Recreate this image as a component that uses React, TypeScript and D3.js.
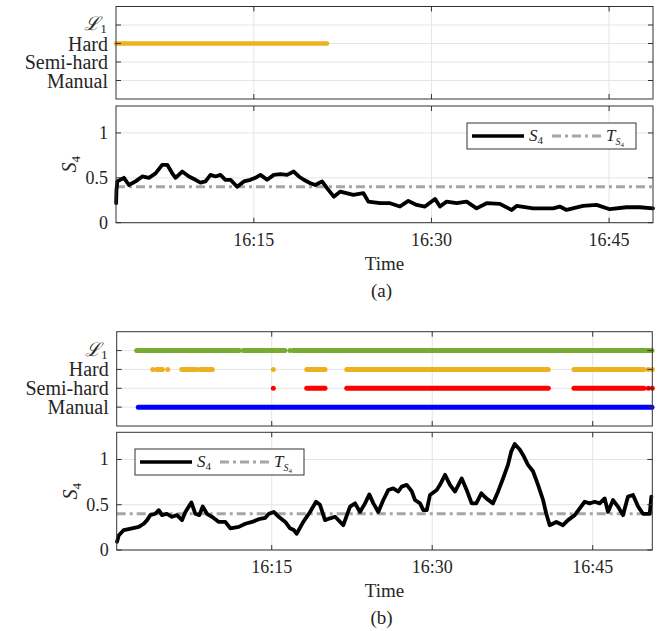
import React from "react";
import * as d3 from "d3";

// ---------- data (minutes after 16:00) ----------
const rowLabels = ["Manual", "Semi-hard", "Hard", "L1"];
const xTickLabels = ["16:15", "16:30", "16:45"];
const xTickMinutes = [15, 30, 45];
const yTicks = [0, 0.5, 1];
const threshold = 0.4;

const aDomain = [3.36, 48.71];
const aHard = [[3.36, 21.18]];

const aTimes = [3.37, 3.4, 3.47, 4.03, 4.45, 5.01, 5.58, 6.14, 6.7, 7.26, 7.69, 8.11, 8.39, 8.95, 9.52, 10.07, 10.49, 10.92, 11.34, 11.76, 12.18, 12.6, 13.03, 13.59, 14.16, 14.71, 15.13, 15.56, 16.12, 16.69, 17.24, 17.81, 18.37, 18.8, 19.22, 19.78, 20.2, 20.76, 21.18, 21.75, 22.31, 23.4, 24.25, 24.67, 25.66, 26.5, 27.34, 28.04, 28.75, 29.45, 30.3, 30.72, 31.28, 32.13, 32.97, 33.81, 34.66, 35.78, 36.77, 37.19, 38.59, 40.28, 40.84, 41.41, 42.81, 43.94, 45.06, 46.47, 47.59, 48.71];
const aS4 = [0.217, 0.366, 0.46, 0.5, 0.42, 0.46, 0.515, 0.5, 0.55, 0.645, 0.645, 0.55, 0.5, 0.57, 0.515, 0.478, 0.447, 0.46, 0.533, 0.515, 0.533, 0.478, 0.478, 0.4, 0.46, 0.478, 0.5, 0.533, 0.478, 0.533, 0.54, 0.533, 0.57, 0.515, 0.478, 0.44, 0.42, 0.46, 0.385, 0.29, 0.347, 0.31, 0.33, 0.235, 0.217, 0.217, 0.18, 0.243, 0.198, 0.18, 0.265, 0.18, 0.235, 0.217, 0.235, 0.16, 0.217, 0.21, 0.142, 0.187, 0.16, 0.16, 0.18, 0.142, 0.187, 0.198, 0.15, 0.172, 0.172, 0.16];

const bDomain = [0.51, 50.57];
const bL1 = [[2.38, 11.97], [12.35, 16.24], [16.71, 16.71], [17.02, 50.54]];
const bHard = [[3.88, 3.88], [4.25, 4.78], [5.28, 5.28], [6.59, 7.99], [8.3, 9.45], [15.15, 15.15], [18.27, 19.98], [22.01, 40.85], [43.25, 49.79], [50.2, 50.2], [50.57, 50.57]];
const bSemi = [[15.15, 15.15], [18.27, 19.98], [22.01, 40.85], [43.25, 49.79], [50.2, 50.2], [50.57, 50.57]];
const bManual = [[2.53, 50.54]];

const bTimes = [0.54, 0.7, 1.17, 1.94, 2.57, 3.04, 3.35, 3.65, 4.12, 4.44, 4.75, 5.21, 5.68, 6.15, 6.62, 6.93, 7.49, 7.86, 8.23, 8.55, 8.95, 9.42, 10.05, 10.66, 11.13, 11.92, 12.53, 13.16, 13.79, 14.4, 14.72, 15.19, 15.65, 16.27, 16.71, 17.06, 17.34, 17.95, 18.58, 19.14, 19.51, 19.98, 20.45, 20.92, 21.69, 22.32, 22.79, 23.25, 23.72, 24.12, 24.5, 24.96, 25.43, 25.9, 26.36, 26.83, 27.15, 27.62, 28.08, 28.39, 28.86, 29.17, 29.49, 29.79, 30.42, 30.73, 31.2, 31.66, 32.13, 32.76, 33.22, 33.69, 34.12, 34.59, 35.06, 35.68, 36.15, 36.62, 37.08, 37.39, 37.71, 38.18, 38.49, 38.95, 39.42, 39.89, 40.36, 40.66, 40.98, 41.6, 42.22, 42.69, 43.32, 43.79, 44.25, 44.72, 45.19, 45.65, 46.12, 46.43, 46.9, 47.36, 47.83, 48.3, 48.77, 49.24, 49.7, 50.33, 50.48];
const bS4 = [0.09, 0.16, 0.22, 0.24, 0.255, 0.29, 0.33, 0.385, 0.4, 0.44, 0.385, 0.4, 0.367, 0.385, 0.33, 0.42, 0.525, 0.4, 0.385, 0.48, 0.4, 0.367, 0.31, 0.31, 0.24, 0.255, 0.29, 0.31, 0.34, 0.355, 0.4, 0.42, 0.367, 0.31, 0.24, 0.22, 0.18, 0.31, 0.42, 0.533, 0.5, 0.33, 0.35, 0.367, 0.274, 0.48, 0.515, 0.42, 0.515, 0.614, 0.515, 0.42, 0.552, 0.663, 0.68, 0.646, 0.7, 0.72, 0.65, 0.552, 0.515, 0.44, 0.44, 0.607, 0.663, 0.72, 0.83, 0.72, 0.646, 0.79, 0.663, 0.515, 0.515, 0.626, 0.57, 0.515, 0.644, 0.79, 0.94, 1.09, 1.17, 1.11, 1.05, 0.94, 0.87, 0.72, 0.552, 0.4, 0.274, 0.31, 0.274, 0.33, 0.385, 0.46, 0.533, 0.515, 0.533, 0.515, 0.57, 0.42, 0.552, 0.48, 0.385, 0.59, 0.607, 0.48, 0.4, 0.4, 0.59];

// ---------- styles ----------
const FONT = "'Liberation Serif', 'DejaVu Serif', serif";
const TXT = "#262626";
const GRID = "#e5e5e5";
const FRAME = "#333333";
const C_GREEN = "#77AC30";
const C_ORANGE = "#EDB120";
const C_RED = "#FF0000";
const C_BLUE = "#0000FF";
const C_THR = "#a6a6a6";
const DASH = "9,4,3,4";

const toDate = (m: number) => new Date(2020, 0, 1, 16, 0, 0, m * 60000);

function L1Label({ x, y, size }: { x: number; y: number; size: number }) {
  return (
    <text x={x} y={y} textAnchor="end" fontFamily={FONT} fontSize={size} fill={TXT} dominantBaseline="central">
      <tspan fontStyle="italic" fontFamily="'DejaVu Serif', serif">ℒ</tspan>
      <tspan fontSize={size * 0.7} dy={5}>1</tspan>
    </text>
  );
}

function StatePanel({ left, right, top, bottom, domain, groups }: any) {
  const x = d3.scaleTime().domain([toDate(domain[0]), toDate(domain[1])]).range([left, right]);
  const y = d3.scaleLinear().domain([0, 5]).range([bottom, top]);
  const rows = [1, 2, 3, 4];
  return (
    <g>
      {xTickMinutes.map((m) => (
        <line key={"gx" + m} x1={x(toDate(m))} x2={x(toDate(m))} y1={top} y2={bottom} stroke={GRID} />
      ))}
      {rows.map((r) => (
        <line key={"gy" + r} x1={left} x2={right} y1={y(r)} y2={y(r)} stroke={GRID} />
      ))}
      {groups.map((g: any, gi: number) =>
        g.intervals.map((iv: number[], i: number) => (
          <line key={gi + "-" + i} x1={x(toDate(iv[0]))} x2={x(toDate(iv[1]))} y1={y(g.row)} y2={y(g.row)}
            stroke={g.color} strokeWidth={g.width || 5} strokeLinecap="round" />
        ))
      )}
      <rect x={left} y={top} width={right - left} height={bottom - top} fill="none" stroke={FRAME} strokeWidth={1} />
      {xTickMinutes.map((m) => (
        <g key={"tx" + m}>
          <line x1={x(toDate(m))} x2={x(toDate(m))} y1={bottom} y2={bottom - 5} stroke={FRAME} />
          <line x1={x(toDate(m))} x2={x(toDate(m))} y1={top} y2={top + 5} stroke={FRAME} />
        </g>
      ))}
      {rows.map((r) => (
        <g key={"ty" + r}>
          <line x1={left} x2={left + 5} y1={y(r)} y2={y(r)} stroke={FRAME} />
          <line x1={right} x2={right - 5} y1={y(r)} y2={y(r)} stroke={FRAME} />
        </g>
      ))}
      {rowLabels.map((lab, i) =>
        lab === "L1" ? (
          <L1Label key={lab} x={left - 9} y={y(i + 1) - 2} size={19} />
        ) : (
          <text key={lab} x={left - 8} y={y(i + 1)} textAnchor="end" dominantBaseline="central" fontFamily={FONT} fontSize={20} fill={TXT}>
            {lab}
          </text>
        )
      )}
    </g>
  );
}

function Legend({ lx, ly }: { lx: number; ly: number }) {
  const w = 169, h = 26, cy = ly + h / 2;
  return (
    <g>
      <rect x={lx} y={ly} width={w} height={h} fill="#fff" stroke={FRAME} strokeWidth={1} />
      <line x1={lx + 5} x2={lx + 57} y1={cy} y2={cy} stroke="#000" strokeWidth={3.5} />
      <text x={lx + 62} y={cy + 5} fontFamily={FONT} fontSize={17} fill={TXT}>
        <tspan fontStyle="italic">S</tspan>
        <tspan fontSize={11} dy={3}>4</tspan>
      </text>
      <line x1={lx + 85} x2={lx + 135} y1={cy} y2={cy} stroke={C_THR} strokeWidth={3} strokeDasharray={DASH} />
      <text x={lx + 139} y={cy + 5} fontFamily={FONT} fontSize={17} fill={TXT}>
        <tspan fontStyle="italic">T</tspan>
        <tspan fontSize={10} dy={4} fontStyle="italic">S</tspan>
        <tspan fontSize={7} dy={2}>4</tspan>
      </text>
    </g>
  );
}

function S4Panel({ left, right, top, bottom, domain, times, vals, legend, caption }: any) {
  const x = d3.scaleTime().domain([toDate(domain[0]), toDate(domain[1])]).range([left, right]);
  const y = d3.scaleLinear().domain([0, 1.3]).range([bottom, top]);
  const pts = times.map((t: number, i: number) => [t, vals[i]]);
  const line = d3.line<any>().x((d) => x(toDate(d[0]))).y((d) => y(d[1])).curve(d3.curveLinear);
  const cx = (left + right) / 2;
  return (
    <g>
      {xTickMinutes.map((m) => (
        <line key={"gx" + m} x1={x(toDate(m))} x2={x(toDate(m))} y1={top} y2={bottom} stroke={GRID} />
      ))}
      {yTicks.map((v) => (
        <line key={"gy" + v} x1={left} x2={right} y1={y(v)} y2={y(v)} stroke={GRID} />
      ))}
      <line x1={left} x2={right} y1={y(threshold)} y2={y(threshold)} stroke={C_THR} strokeWidth={3} strokeDasharray={DASH} />
      <path d={line(pts) || ""} fill="none" stroke="#000" strokeWidth={3.8} strokeLinejoin="round" strokeLinecap="round" />
      <rect x={left} y={top} width={right - left} height={bottom - top} fill="none" stroke={FRAME} strokeWidth={1} />
      {xTickMinutes.map((m, i) => (
        <g key={"tx" + m}>
          <line x1={x(toDate(m))} x2={x(toDate(m))} y1={bottom} y2={bottom - 5} stroke={FRAME} />
          <line x1={x(toDate(m))} x2={x(toDate(m))} y1={top} y2={top + 5} stroke={FRAME} />
          <text x={x(toDate(m))} y={bottom + 23} textAnchor="middle" fontFamily={FONT} fontSize={18} fill={TXT}>
            {xTickLabels[i]}
          </text>
        </g>
      ))}
      {yTicks.map((v) => (
        <g key={"ty" + v}>
          <line x1={left} x2={left + 5} y1={y(v)} y2={y(v)} stroke={FRAME} />
          <line x1={right} x2={right - 5} y1={y(v)} y2={y(v)} stroke={FRAME} />
          <text x={left - 8} y={y(v)} textAnchor="end" dominantBaseline="central" fontFamily={FONT} fontSize={18} fill={TXT}>
            {String(v)}
          </text>
        </g>
      ))}
      <text transform={`translate(${left - 40},${(top + bottom) / 2}) rotate(-90)`} textAnchor="middle" fontFamily={FONT} fontSize={20} fill={TXT}>
        <tspan fontStyle="italic">S</tspan>
        <tspan fontSize={13} dy={4}>4</tspan>
      </text>
      <text x={cx} y={bottom + 47} textAnchor="middle" fontFamily={FONT} fontSize={19} fill={TXT}>Time</text>
      <text x={cx - 3} y={bottom + 74} textAnchor="middle" fontFamily={FONT} fontSize={19} fill={TXT}>{caption}</text>
      <Legend lx={legend[0]} ly={legend[1]} />
    </g>
  );
}

export default function App() {
  return (
    <svg width={661} height={631} style={{ display: "block", position: "absolute", left: 0, top: 0, background: "#fff" }}>
      <StatePanel left={116} right={653} top={6.5} bottom={99} domain={aDomain}
        groups={[{ row: 3, intervals: aHard, color: C_ORANGE, width: 4.5 }]} />
      <S4Panel left={116} right={653} top={106} bottom={222.7} domain={aDomain} times={aTimes} vals={aS4}
        legend={[467, 123]} caption="(a)" />
      <StatePanel left={116.7} right={652.3} top={331.7} bottom={426} domain={bDomain}
        groups={[
          { row: 4, intervals: bL1, color: C_GREEN },
          { row: 3, intervals: bHard, color: C_ORANGE },
          { row: 2, intervals: bSemi, color: C_RED },
          { row: 1, intervals: bManual, color: C_BLUE },
        ]} />
      <S4Panel left={116.7} right={652.3} top={432.3} bottom={550} domain={bDomain} times={bTimes} vals={bS4}
        legend={[135, 449]} caption="(b)" />
    </svg>
  );
}
